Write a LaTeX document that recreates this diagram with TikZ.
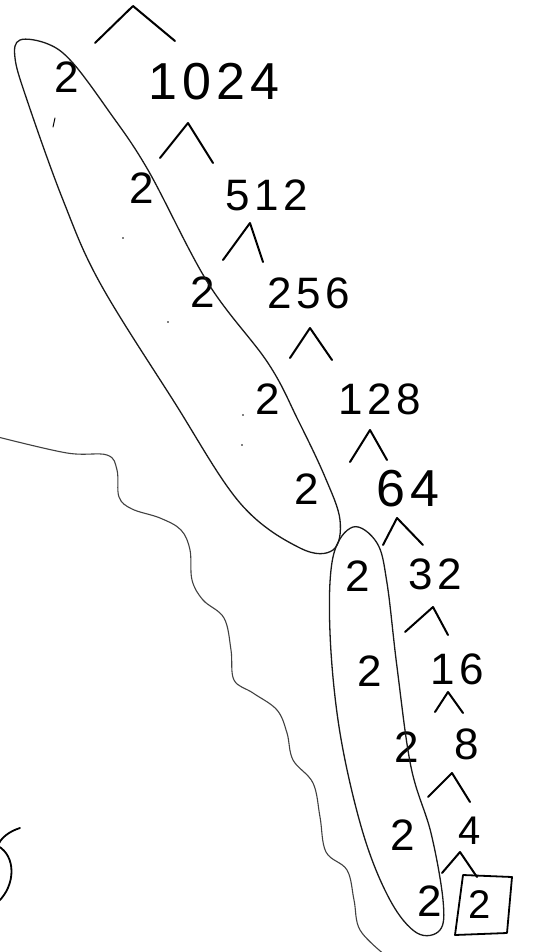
\documentclass[tikz,border=0pt]{standalone}
\usepackage{fontspec}
\setmainfont{Liberation Sans}
\newfontfamily\spaced[LetterSpace=10]{Liberation Sans}
\begin{document}
\begin{tikzpicture}[x=1pt,y=-1pt,
  num/.style={inner sep=0pt,font=\fontsize{44}{44}\selectfont},
  big/.style={inner sep=0pt,font=\spaced\fontsize{52}{52}\selectfont},
  wide/.style={inner sep=0pt,font=\spaced\fontsize{44}{44}\selectfont},
  small/.style={inner sep=0pt,font=\fontsize{40}{40}\selectfont},
  caret/.style={line width=2pt,line cap=round,line join=round},
  loop/.style={line width=1.3pt,black!90},
  wave/.style={line width=1.1pt,black!75}]
\useasboundingbox[fill=white] (0,0) rectangle (555,952);
% numbers
\node[num] (f1)  at (67,77)   {2};
\node[big] (n1024) at (214,82) {1024};
\node[num] (f2)  at (142,188) {2};
\node[wide] (n512) at (267,195) {512};
\node[num] (f3)  at (203,292) {2};
\node[wide] (n256) at (309,293) {256};
\node[num] (f4)  at (268,399) {2};
\node[wide] (n128) at (380,399) {128};
\node[num] (f5)  at (307,489) {2};
\node[big] (n64) at (408,489) {64};
\node[num] (f6)  at (358,576) {2};
\node[wide] (n32) at (435,574) {32};
\node[num] (f7)  at (370,671) {2};
\node[wide] (n16) at (457,669) {16};
\node[num] (f8)  at (407,747) {2};
\node[num] (n8) at (467,744) {8};
\node[num] (f9)  at (403,835) {2};
\node[small] (n4) at (470,831) {4};
\node[num] (f10) at (430,901) {2};
\node[small] (n2) at (480,905) {2};
% box round the last 2
\draw[line width=1.8pt,line join=round] (463,875) -- (512,877) -- (507,933) -- (455,935) -- cycle;
% carets
\draw[caret] (95,43) -- (133,6) -- (175,41);
\draw[caret] (160,158) -- (188,123) -- (213,163);
\draw[caret] (223,260) -- (250,223) -- (263,262);
\draw[caret] (290,358) -- (310,328) -- (332,360);
\draw[caret] (350,462) -- (370,430) -- (387,460);
\draw[caret] (383,545) -- (397,518) -- (423,545);
\draw[caret] (405,632) -- (433,607) -- (448,635);
\draw[caret] (435,712) -- (448,692) -- (463,713);
\draw[caret] (428,797) -- (452,773) -- (470,802);
\draw[caret] (442,873) -- (460,852) -- (477,877);
% big loop
\draw[loop] plot[smooth cycle,tension=0.6] coordinates {
  (20,40) (48,44) (72,62) (108,110) (148,170) (208,283) (268,363) (298,420)
  (325,477) (340,520) (333,550) (300,548) (240,503) (173,400) (100,283)
  (63,200) (27,100) (15,58)};
% narrow loop
\draw[loop] plot[smooth cycle,tension=0.6] coordinates {
  (353,527) (377,543) (387,583) (397,667) (411,767) (431,833) (443,900)
  (440,930) (417,933) (390,900) (363,833) (340,733) (330,633) (333,557)};
% wavy line
\draw[wave] plot[smooth,tension=0.6] coordinates {
  (-2,437) (67,453) (107,455) (117,470) (119,497) (132,509) (160,518)
  (181,530) (190,550) (192,580) (203,600) (224,618) (231,650) (234,680)
  (253,693) (277,710) (287,733) (293,760) (313,783) (320,817) (326,852)
  (347,870) (354,900) (360,930) (385,955)};
% fragment of a digit at the left edge
\draw[line width=1.8pt,line cap=round] (20,828) .. controls (10,831) and (0,838) .. (-2,846)
  .. controls (16,856) and (16,885) .. (-2,902);
% stray marks
\draw[line width=1pt,line cap=round] (55,118) -- (53,127);
\fill (123,238) circle (0.9);
\fill (168,322) circle (0.9);
\fill (243,415) circle (0.9);
\fill (242,445) circle (0.9);
\end{tikzpicture}
\end{document}
